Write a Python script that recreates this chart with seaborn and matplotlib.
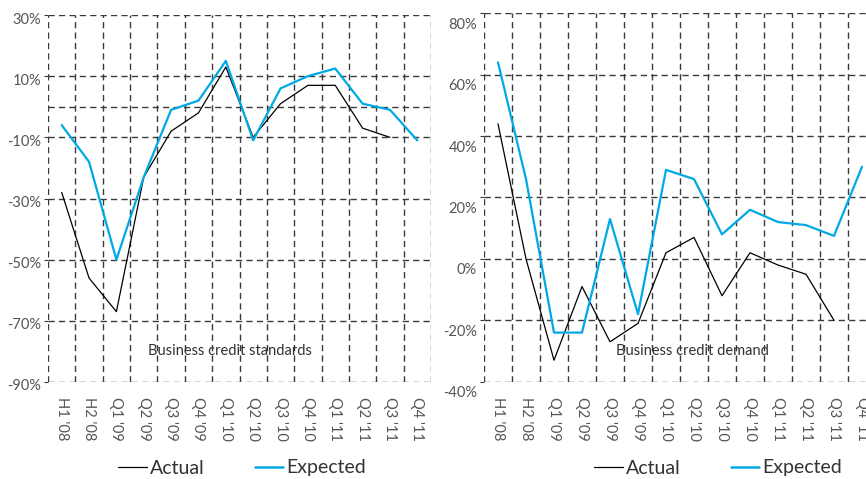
import matplotlib
matplotlib.use("Agg")
import matplotlib.pyplot as plt
import matplotlib.transforms as mtransforms
from matplotlib.lines import Line2D
import numpy as np
import pandas as pd
import seaborn as sns

# Survey periods
periods = ["H1 '08", "H2 '08", "Q1 '09", "Q2 '09", "Q3 '09", "Q4 '09", "Q1 '10",
           "Q2 '10", "Q3 '10", "Q4 '10", "Q1 '11", "Q2 '11", "Q3 '11", "Q4 '11"]

# Business credit standards (net %)
standards_actual = [-28, -56, -67, -23, -8, -2, 13, -10, 1, 7, 7, -7, -10, np.nan]
standards_expected = [-6, -18, -50, -23, -1, 2, 15, -11, 6, 10, 12.5, 1, -1, -11]

# Business credit demand (net %)
demand_actual = [44, 0, -33, -9, -27, -21, 2, 7, -12, 2, -2, -5, -20, np.nan]
demand_expected = [64, 26, -24, -24, 13, -18, 29, 26, 8, 16, 12, 11, 7.5, 30]

standards_ticks = [30, 10, -10, -30, -50, -70, -90]
demand_ticks = [80, 60, 40, 20, 0, -20, -40]

BLUE = "#00A9E6"
GRID = "#3a3a3a"
TEXT = "#555555"

sns.set_theme(style="white")
plt.rcParams["font.family"] = ["Lato", "DejaVu Sans"]

fig = plt.figure(figsize=(8.66, 4.79), dpi=100)
W, H = 866, 479


def axes_at(x0, x1, y0, y1):
    return fig.add_axes([x0 / W, 1 - y1 / H, (x1 - x0) / W, (y1 - y0) / H])


ax1 = axes_at(48, 431, 15, 382)
ax2 = axes_at(484, 876, 13.3, 381.7)


def draw_panel(ax, actual, expected, yticks, extra_h, title, title_xy, label_dy):
    n = len(periods)
    x = np.arange(n)
    df = pd.DataFrame({"pos": x, "Actual": actual, "Expected": expected})
    sns.lineplot(data=df, x="pos", y="Actual", ax=ax, color="black", linewidth=0.9)
    sns.lineplot(data=df, x="pos", y="Expected", ax=ax, color=BLUE, linewidth=1.6)

    ax.set_xlim(-0.5, n - 0.5)
    ax.set_ylim(min(yticks), max(yticks))
    ax.set_xlabel("")
    ax.set_ylabel("")
    for s in ax.spines.values():
        s.set_visible(False)

    dash = (0, (4.5, 3))
    for b in np.arange(-0.5, n, 1.0):
        ax.axvline(b, color=GRID, linewidth=1.0, linestyle=dash, zorder=0)
    for yv in list(yticks) + list(extra_h):
        ax.axhline(yv, color=GRID, linewidth=1.0, linestyle=dash, zorder=0)

    ax.set_xticks(x)
    ax.set_xticklabels(periods, rotation=-90, fontsize=10.5, color=TEXT, va="top", ha="center")
    ax.tick_params(axis="x", length=0, pad=11)
    ax.set_yticks(yticks)
    ax.set_yticklabels([f"{v}%" for v in yticks], fontsize=10.5, color=TEXT)
    ax.tick_params(axis="y", length=3, width=0.8, color=GRID, pad=2, left=True)
    off = mtransforms.ScaledTranslation(0, -label_dy / 100, fig.dpi_scale_trans)
    for lab in ax.get_yticklabels():
        lab.set_transform(lab.get_transform() + off)

    ax.text(title_xy[0], title_xy[1], title, transform=ax.transData,
            fontsize=10.5, color="#333333", ha="center", va="center")


draw_panel(ax1, standards_actual, standards_expected, standards_ticks, [0],
           "Business credit standards", (6.15, -80), 3)
draw_panel(ax2, demand_actual, demand_expected, demand_ticks, [],
           "Business credit demand", (6.95, -30), 10)


def legend_at(cx, cy):
    handles = [Line2D([], [], color="black", linewidth=0.9),
               Line2D([], [], color=BLUE, linewidth=1.8)]
    fig.legend(handles, ["Actual", "Expected"], loc="center",
               bbox_to_anchor=(cx / W, 1 - cy / H), ncol=2, frameon=False,
               fontsize=14, handlelength=1.45, handletextpad=0.15,
               columnspacing=2.6, labelcolor="#333333")


legend_at(242, 468)
legend_at(718, 468)

fig.savefig("out.png", dpi=100)
